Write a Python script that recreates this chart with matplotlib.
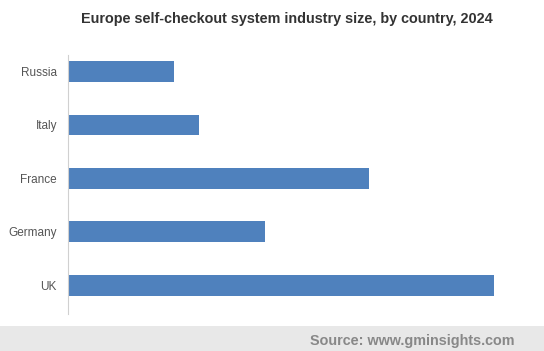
import matplotlib.pyplot as plt
from matplotlib.patches import Rectangle

# Europe self-checkout system industry size, by country, 2024 (relative units)
countries = ['UK', 'Germany', 'France', 'Italy', 'Russia']
values = [426, 197, 301, 131, 106]

bar_color = '#4f81bd'

plt.rcParams['font.family'] = ['Liberation Sans', 'DejaVu Sans']

fig = plt.figure(figsize=(5.44, 3.51), dpi=100)
ax = fig.add_axes([68 / 544, 37 / 351, 470 / 544, 259 / 351])

ax.barh(range(len(countries)), values, height=0.39, color=bar_color)
ax.set_yticks(range(len(countries)))
ax.set_yticklabels(countries, fontsize=8.5, color='#555555')
ax.set_xlim(0, 470)
ax.set_ylim(-0.54, 4.31)
ax.set_xticks([])
ax.tick_params(axis='y', length=0, pad=8)
for side in ['top', 'right', 'bottom']:
    ax.spines[side].set_visible(False)
ax.spines['left'].set_color('#d0d0d0')

fig.text(287 / 544, 1 - 19 / 351, 'Europe self-checkout system industry size, by country, 2024',
         ha='center', va='center', fontsize=10.4, fontweight='bold', color='#333333')

# source band at the bottom
fig.patches.append(Rectangle((0, 0), 1, 25 / 351, transform=fig.transFigure,
                             facecolor='#e8e8e8', edgecolor='none', zorder=0))
fig.text(514 / 544, 10 / 351, 'Source: www.gminsights.com', ha='right', va='center',
         fontsize=10.35, fontweight='bold', color='#888888')

fig.savefig('out.png', dpi=100)
